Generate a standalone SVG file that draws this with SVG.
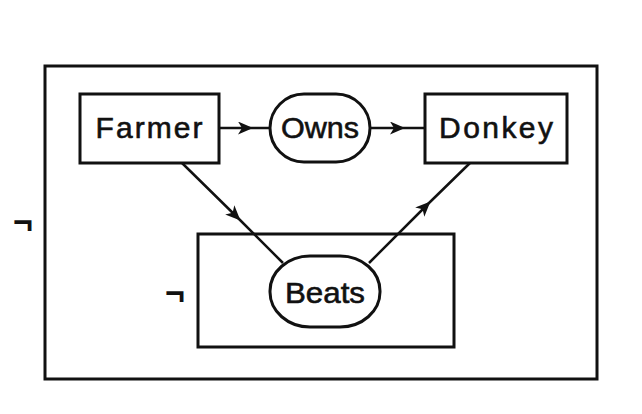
<svg xmlns="http://www.w3.org/2000/svg" width="642" height="414" viewBox="0 0 642 414">
<defs>
<marker id="ah" viewBox="0 0 15 13" refX="13" refY="6.5" markerWidth="15" markerHeight="13" markerUnits="userSpaceOnUse" orient="auto">
<path d="M0,0 L15,6.5 L0,13 L4,6.5 Z" fill="#111"/>
</marker>
</defs>
<style>
.box{fill:none;stroke:#111;stroke-width:3}
.node{fill:#fff;stroke:#111;stroke-width:3}
.lbl{font-family:"Liberation Sans",Arial,sans-serif;font-size:30px;fill:#111;stroke:#111;stroke-width:0.6;text-anchor:middle}
.neg{font-family:"Liberation Sans",Arial,sans-serif;font-size:34px;font-weight:bold;fill:#111}
.edge{fill:none;stroke:#111;stroke-width:2.5;marker-mid:url(#ah)}
</style>
<rect width="642" height="414" fill="#fff"/>
<g id="outer-context">
<rect class="box" x="45" y="66" width="552" height="313"/>
<text class="neg" x="13" y="233">¬</text>
</g>
<g id="inner-context">
<rect class="box" x="198" y="234" width="256" height="113"/>
<text class="neg" x="165" y="304">¬</text>
</g>
<g id="connectors">
<polyline class="edge" points="219,128 251,128 270,128"/>
<polyline class="edge" points="370,128 403,128 425,128"/>
<polyline class="edge" points="182,163 239,219 283,263"/>
<polyline class="edge" points="369,263 429,203 470,163"/>
</g>
<g id="farmer">
<rect class="node" x="80" y="94" width="139" height="69"/>
<text class="lbl" x="149" y="138" textLength="107" lengthAdjust="spacing">Farmer</text>
</g>
<g id="owns">
<rect class="node" x="270" y="94" width="100" height="68" rx="34" ry="34"/>
<text class="lbl" x="320" y="138" textLength="78" lengthAdjust="spacingAndGlyphs">Owns</text>
</g>
<g id="donkey">
<rect class="node" x="425" y="94" width="142" height="69"/>
<text class="lbl" x="496" y="138" textLength="114" lengthAdjust="spacing">Donkey</text>
</g>
<g id="beats">
<rect class="node" x="270" y="256" width="110" height="71" rx="40" ry="35"/>
<text class="lbl" x="325" y="303" textLength="80" lengthAdjust="spacingAndGlyphs">Beats</text>
</g>
</svg>
